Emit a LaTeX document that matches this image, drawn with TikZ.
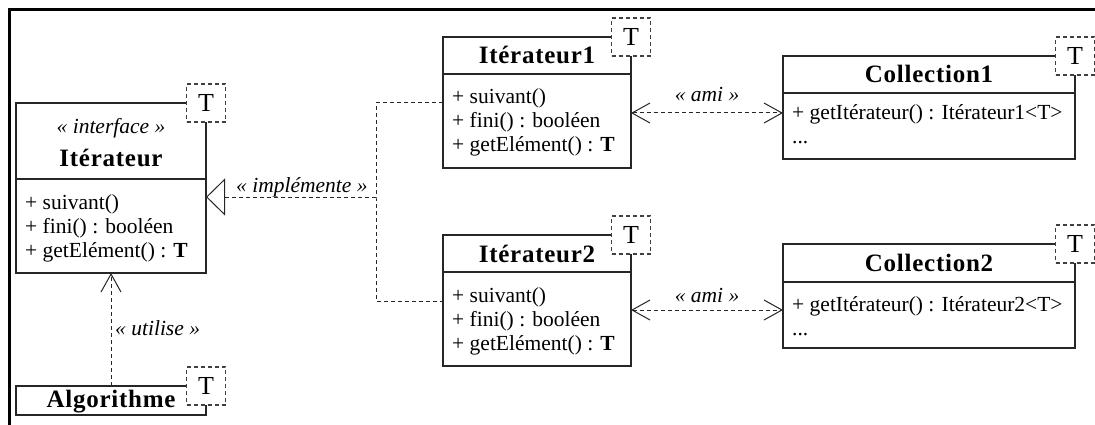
\documentclass[tikz,border=0pt]{standalone}
\usepackage{fontspec}
\setmainfont{Liberation Serif}
\newfontfamily\titlefont[LetterSpace=3]{Liberation Serif}
\usetikzlibrary{arrows.meta}
\tikzset{
  classbox/.style={draw=black!85, line width=1.1pt, inner sep=0pt, outer sep=0pt},
  classline/.style={draw=black!85, line width=1.1pt},
  tparam/.style={draw=black!75, dash pattern=on 4pt off 3pt, fill=white, line width=1.1pt,
     minimum width=39pt, minimum height=38pt, inner sep=0pt, font=\fontsize{26}{30}\selectfont},
  member/.style={anchor=base west, inner sep=0pt, font=\fontsize{21.5}{24}\selectfont},
  title/.style={anchor=base, inner sep=0pt, font=\titlefont\bfseries\fontsize{25}{30}\selectfont},
  lbl/.style={inner sep=0pt, font=\itshape\fontsize{21.5}{24}\selectfont},
  dashline/.style={draw=black!85, line width=1pt, dash pattern=on 4pt off 3pt},
  vhead/.style={-{Straight Barb[length=18pt,width=20pt,line width=1pt]}},
  amihead/.style={{Straight Barb[length=18pt,width=20pt,line width=1pt]}-{Straight Barb[length=18pt,width=20pt,line width=1pt]}},
  trihead/.style={-{Triangle[open,length=19pt,width=37pt,line width=1pt,fill=white]}}
}
\begin{document}
\begin{tikzpicture}[x=1pt,y=-1pt]
\useasboundingbox (0,0) rectangle (1095,425);
\draw[line width=3pt] (9.5,425) -- (9.5,10) -- (1095,10);

% Interface Iterateur
\node[classbox, minimum width=190pt, minimum height=170pt] (itf) at (111,188) {};
\draw[classline] (itf.west |- 0,179) -- (itf.east |- 0,179);
\node[lbl, anchor=base] (itfst) at (111,134) {«~interface~»};
\node[title] (itft) at (111,166) {Itérateur};
\node[member] (itfm1) at (25,209) {+ suivant()};
\node[member] (itfm2) at (25,233) {+ fini() : booléen};
\node[member] (itfm3) at (25,257) {+ getElément() : \textbf{T}};
\node[tparam] (itfT) at (itf.north east) {T};

% Algorithme
\node[classbox, minimum width=190pt, minimum height=29pt] (alg) at (111,400.5) {};
\node[title] (algt) at (111,407) {Algorithme};
\node[tparam] (algT) at (alg.north east) {T};

% Iterateur1
\node[classbox, minimum width=188pt, minimum height=131pt] (it1) at (537,102.5) {};
\draw[classline] (it1.west |- 0,74) -- (it1.east |- 0,74);
\node[title] (it1t) at (537,64) {Itérateur1};
\node[member] (it1m1) at (452,104) {+ suivant()};
\node[member] (it1m2) at (452,128) {+ fini() : booléen};
\node[member] (it1m3) at (452,152) {+ getElément() : \textbf{T}};
\node[tparam] (it1T) at (it1.north east) {T};

% Iterateur2
\node[classbox, minimum width=188pt, minimum height=131pt] (it2) at (537,300.5) {};
\draw[classline] (it2.west |- 0,272) -- (it2.east |- 0,272);
\node[title] (it2t) at (537,262) {Itérateur2};
\node[member] (it2m1) at (452,302) {+ suivant()};
\node[member] (it2m2) at (452,326) {+ fini() : booléen};
\node[member] (it2m3) at (452,350) {+ getElément() : \textbf{T}};
\node[tparam] (it2T) at (it2.north east) {T};

% Collection1
\node[classbox, minimum width=292pt, minimum height=103pt] (col1) at (929,107.5) {};
\draw[classline] (col1.west |- 0,93) -- (col1.east |- 0,93);
\node[title] (col1t) at (929,83) {Collection1};
\node[member] (col1m1) at (792,120) {+ getItérateur() : Itérateur1<T>};
\node[member] (col1m2) at (792,144) {...};
\node[tparam] (col1T) at (col1.north east) {T};

% Collection2
\node[classbox, minimum width=292pt, minimum height=104pt] (col2) at (929,296) {};
\draw[classline] (col2.west |- 0,282) -- (col2.east |- 0,282);
\node[title] (col2t) at (929,271) {Collection2};
\node[member] (col2m1) at (792,311) {+ getItérateur() : Itérateur2<T>};
\node[member] (col2m2) at (792,335) {...};
\node[tparam] (col2T) at (col2.north east) {T};

% utilise
\draw[dashline, vhead] (alg.north) -- (itf.south);
\node[lbl, anchor=base west] (lutil) at (115,335) {«~utilise~»};

% implemente
\coordinate (j) at (376,197);
\coordinate (h1) at (0,103);
\coordinate (h2) at (0,301);
\draw[dashline] (it1.west |- h1) -| (j) |- (it2.west |- h2);
\draw[dashline, trihead] (j) -- (itf.east |- j);
\node[lbl, anchor=base west] (limpl) at (236,192) {«~implémente~»};

% ami
\coordinate (a1) at (0,113);
\coordinate (a2) at (0,310);
\draw[dashline, amihead] (it1.east |- a1) -- (col1.west |- a1);
\draw[dashline, amihead] (it2.east |- a2) -- (col2.west |- a2);
\node[lbl, anchor=base] (lami1) at (707,102) {«~ami~»};
\node[lbl, anchor=base] (lami2) at (707,302) {«~ami~»};
\end{tikzpicture}
\end{document}
